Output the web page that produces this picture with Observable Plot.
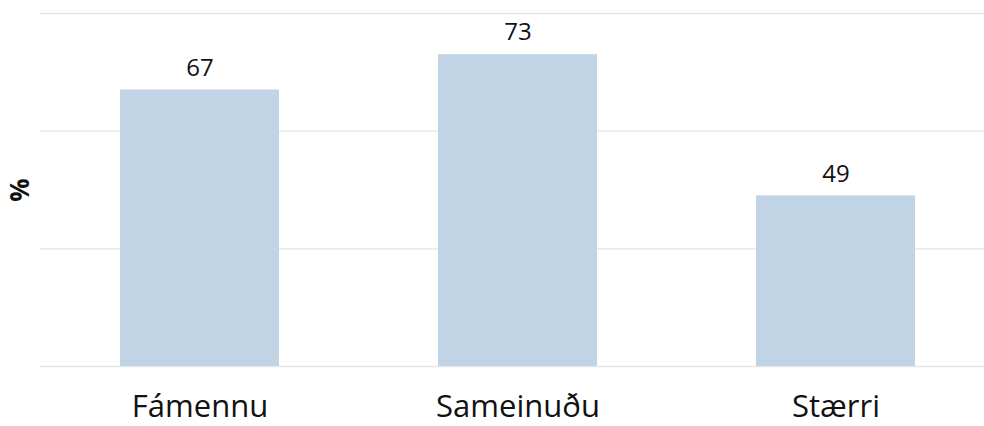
<!DOCTYPE html>
<html><head><meta charset="utf-8">
<script src="https://cdn.jsdelivr.net/npm/d3@7"></script>
<script src="https://cdn.jsdelivr.net/npm/@observablehq/plot@0.6"></script>
<style>body{margin:0;background:#fff;} svg{display:block;}</style>
</head><body><div id="chart"></div>
<script>
const categories = ["Fámennu", "Sameinuðu", "Stærri"];
const values = [67, 73, 49];
const yTicks = [20, 40, 60, 80];
const data = categories.map((c, i) => ({cat: c, value: values[i]}));

const chart = Plot.plot({
  width: 984,
  height: 426,
  marginTop: 13,
  marginBottom: 60,
  marginLeft: 40,
  marginRight: 0,
  style: {fontFamily: "'Open Sans', 'Noto Sans', sans-serif", background: "#fff"},
  x: {domain: categories, range: [40, 994], paddingInner: 0.5, paddingOuter: 0.25, label: null, axis: null},
  y: {domain: [20, 80], label: null, axis: null},
  marks: [
    Plot.ruleY(yTicks, {stroke: "#e6e6e6", strokeWidth: 1.3}),
    Plot.barY(data, {x: "cat", y1: 20, y2: "value", fill: "#c1d4e5"}),
    Plot.text(data, {x: "cat", y: "value", text: d => String(d.value), dy: -22, fontSize: 24, fill: "#111"}),
    Plot.axisX({tickSize: 0, tickPadding: 28, fontSize: 31, fill: "#111", label: null}),
    Plot.text(["%"], {frameAnchor: "left", textAnchor: "middle", dx: -20, rotate: -90, fontSize: 26, fontWeight: "bold", fill: "#111"})
  ]
});
document.getElementById("chart").appendChild(chart);
</script>
</body></html>
